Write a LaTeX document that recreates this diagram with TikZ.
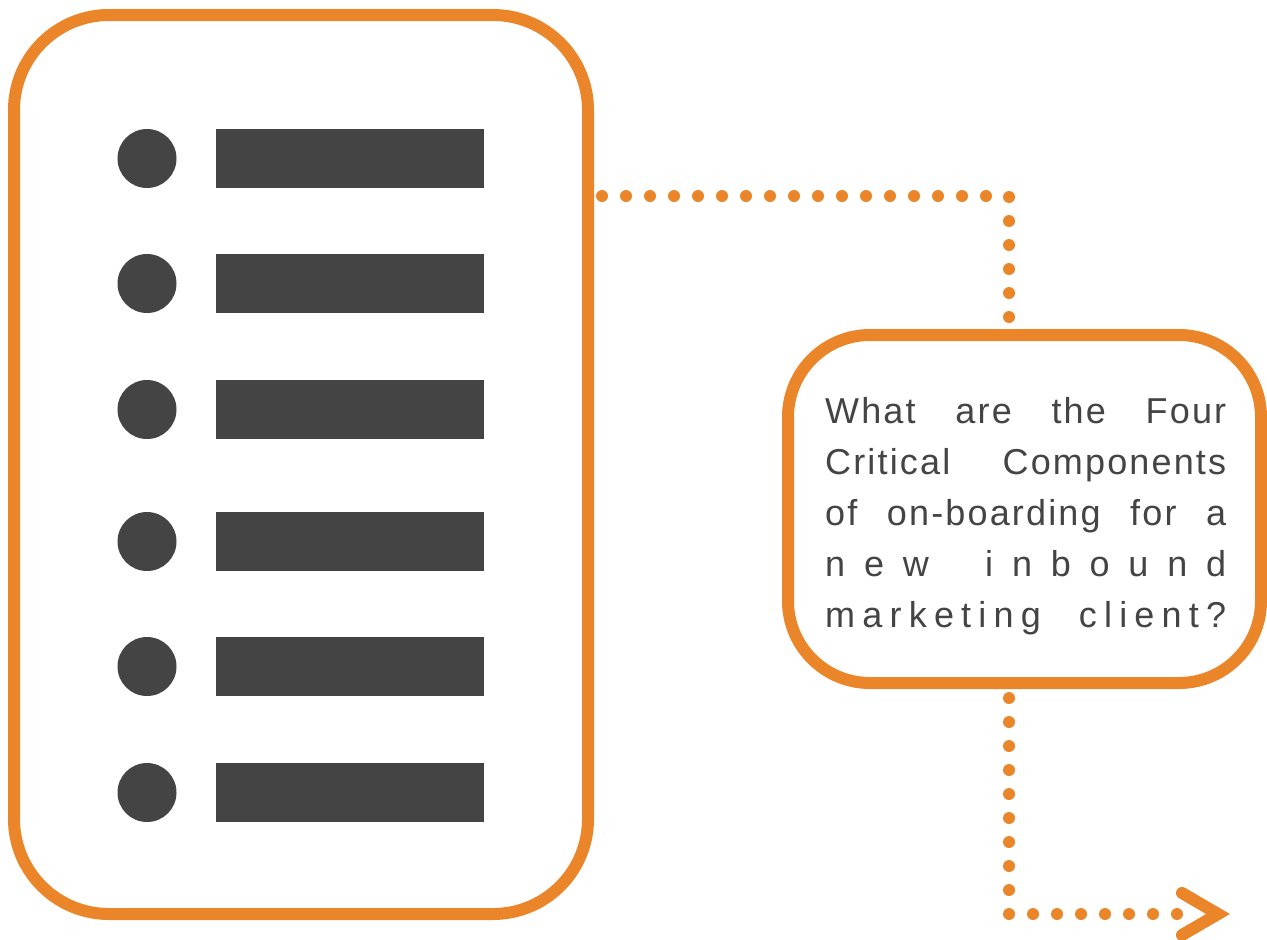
\documentclass[tikz,border=0pt]{standalone}
\usepackage{fontspec}
\newfontfamily\qfont[LetterSpace=6]{Liberation Sans}
\newfontfamily\qwide[LetterSpace=20]{Liberation Sans}
\definecolor{accent}{RGB}{234,134,41}
\definecolor{ink}{RGB}{68,68,68}
\begin{document}
\begin{tikzpicture}[x=1pt,y=-1pt,
  frame/.style={draw=accent, line width=12pt, rounded corners=#1, fill=white, inner sep=0pt},
  bullet/.style={fill=ink},
  bar/.style={rectangle, fill=ink, inner sep=0pt, minimum width=268pt, minimum height=59pt},
  dotted link/.style={draw=accent, line width=12pt, line cap=round, dash pattern=on 0pt off 24pt},
  qline/.style={anchor=base west, inner sep=0pt, text=ink, font=\qfont\fontsize{36}{51}\selectfont},
  chevron/.style={draw=accent, line width=12pt, line cap=round, miter limit=10}
]
\useasboundingbox (0,0) rectangle (1267,940);

% list card on the left
\node[frame=95pt, minimum width=574pt, minimum height=899pt] (card) at (301,464.5) {};
\foreach \y [count=\i] in {158.5,283.5,409.5,541.5,666.5,792.5} {
  \coordinate (dot\i) at (147,\y);
  \path[bullet] (dot\i) circle[radius=29.5pt];
  \node[bar] (bar\i) at (350,\y) {};
}

% question box on the right
\node[frame=82pt, minimum width=473pt, minimum height=348pt] (qbox) at (1024.5,509) {};
\node[qline] (q1) at (825,423) {\makebox[401pt][s]{What are the Four}};
\node[qline] (q2) at (825,474) {\makebox[401pt][s]{Critical Components}};
\node[qline] (q3) at (825,525) {\makebox[401pt][s]{of on-boarding for a}};
\node[qline] (q4) at (825,576) {\makebox[401pt][s]{n\hfill e\hfill w\hfill\hfill\hfill i\hfill n\hfill b\hfill o\hfill u\hfill n\hfill d}};
\node[qline, font=\qwide\fontsize{36}{51}\selectfont] (q5) at (825,627) {\makebox[401pt][s]{marketing client?}};

% dotted connectors
\coordinate (outA) at (602,196);
\coordinate (bendA) at (1009,196);
\coordinate (inA) at (1009,317);
\coordinate (outB) at (1009,698);
\coordinate (bendB) at (1009,914);
\coordinate (endB) at (1177,914);
\draw[dotted link] (outA) -- (bendA) -- (inA);
\draw[dotted link] (outB) -- (bendB) -- (endB);

% arrow head
\coordinate (tip) at (1218,914);
\draw[chevron] ([shift={(-36,-21)}]tip) -- (tip) -- ([shift={(-36,21)}]tip);
\end{tikzpicture}
\end{document}
